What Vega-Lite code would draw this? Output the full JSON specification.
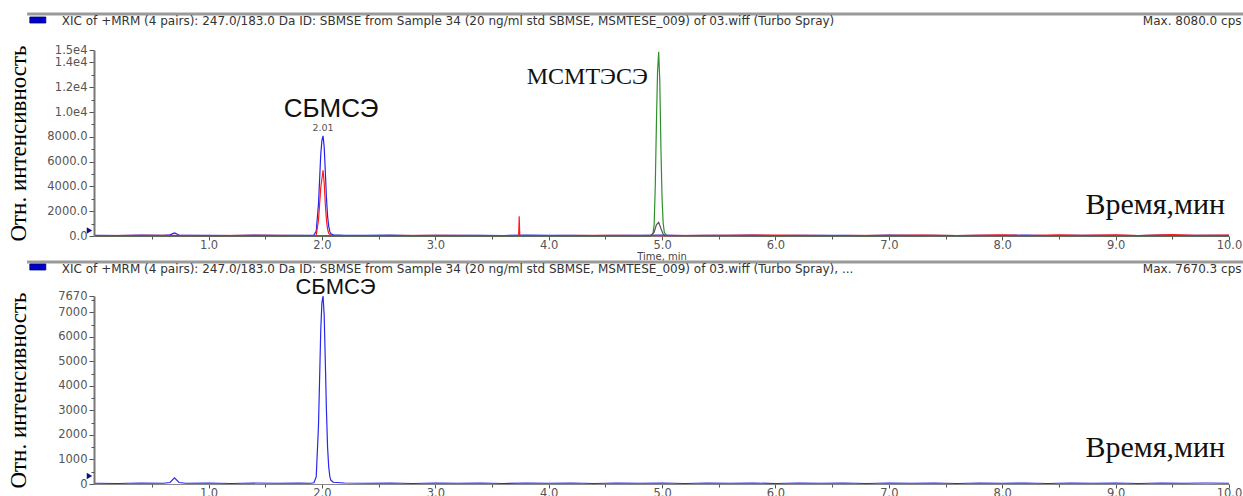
{
  "$schema": "https://vega.github.io/schema/vega-lite/v6.json",
  "padding": {"left": 6, "top": 12, "right": 0, "bottom": 0},
  "background": "white",
  "spacing": 60,
  "bounds": "flush",
  "config": {"view": {"stroke": null}, "axis": {"labelOverlap": false, "labelFlush": false, "grid": false}},
  "datasets": {
    "top": [
      {"s":"b","t":0,"i":60},{"s":"b","t":0.2,"i":40},{"s":"b","t":0.4,"i":70},{"s":"b","t":0.6,"i":50},{"s":"b","t":0.66,"i":90},{"s":"b","t":0.7,"i":240},{"s":"b","t":0.74,"i":80},{"s":"b","t":0.8,"i":50},{"s":"b","t":1.0,"i":60},{"s":"b","t":1.2,"i":40},{"s":"b","t":1.4,"i":80},{"s":"b","t":1.6,"i":50},{"s":"b","t":1.8,"i":60},{"s":"b","t":1.9,"i":50},{"s":"b","t":1.93,"i":80},{"s":"b","t":1.95,"i":400},{"s":"b","t":1.97,"i":2600},{"s":"b","t":1.99,"i":6600},{"s":"b","t":2.0,"i":7700},{"s":"b","t":2.01,"i":8080},{"s":"b","t":2.02,"i":7200},{"s":"b","t":2.03,"i":5200},{"s":"b","t":2.04,"i":3100},{"s":"b","t":2.05,"i":1600},{"s":"b","t":2.06,"i":800},{"s":"b","t":2.07,"i":350},{"s":"b","t":2.08,"i":180},{"s":"b","t":2.1,"i":90},{"s":"b","t":2.2,"i":60},{"s":"b","t":2.4,"i":50},{"s":"b","t":2.6,"i":70},{"s":"b","t":2.8,"i":40},{"s":"b","t":3.0,"i":60},{"s":"b","t":3.2,"i":50},{"s":"b","t":3.4,"i":60},{"s":"b","t":3.6,"i":40},{"s":"b","t":3.8,"i":70},{"s":"b","t":4.0,"i":50},{"s":"b","t":4.2,"i":60},{"s":"b","t":4.4,"i":40},{"s":"b","t":4.6,"i":60},{"s":"b","t":4.8,"i":50},{"s":"b","t":5.0,"i":70},{"s":"b","t":5.2,"i":40},{"s":"b","t":5.4,"i":60},{"s":"b","t":5.6,"i":50},{"s":"b","t":5.8,"i":70},{"s":"b","t":6.0,"i":40},{"s":"b","t":6.2,"i":60},{"s":"b","t":6.4,"i":50},{"s":"b","t":6.6,"i":60},{"s":"b","t":6.8,"i":40},{"s":"b","t":7.0,"i":70},{"s":"b","t":7.2,"i":50},{"s":"b","t":7.4,"i":60},{"s":"b","t":7.6,"i":40},{"s":"b","t":7.8,"i":60},{"s":"b","t":8.0,"i":50},{"s":"b","t":8.2,"i":70},{"s":"b","t":8.4,"i":40},{"s":"b","t":8.6,"i":60},{"s":"b","t":8.8,"i":50},{"s":"b","t":9.0,"i":60},{"s":"b","t":9.2,"i":40},{"s":"b","t":9.4,"i":70},{"s":"b","t":9.6,"i":50},{"s":"b","t":9.8,"i":60},{"s":"b","t":10.0,"i":50},
      {"s":"r","t":0,"i":30},{"s":"r","t":0.5,"i":50},{"s":"r","t":1.0,"i":30},{"s":"r","t":1.5,"i":60},{"s":"r","t":1.9,"i":40},{"s":"r","t":1.95,"i":60},{"s":"r","t":1.97,"i":1300},{"s":"r","t":1.99,"i":3900},{"s":"r","t":2.0,"i":4600},{"s":"r","t":2.01,"i":5300},{"s":"r","t":2.02,"i":4300},{"s":"r","t":2.03,"i":2600},{"s":"r","t":2.04,"i":1300},{"s":"r","t":2.05,"i":550},{"s":"r","t":2.06,"i":200},{"s":"r","t":2.08,"i":50},{"s":"r","t":2.5,"i":40},{"s":"r","t":3.0,"i":60},{"s":"r","t":3.5,"i":30},{"s":"r","t":3.735,"i":40},{"s":"r","t":3.74,"i":1600},{"s":"r","t":3.745,"i":40},{"s":"r","t":4.0,"i":40},{"s":"r","t":4.5,"i":60},{"s":"r","t":5.0,"i":30},{"s":"r","t":5.5,"i":50},{"s":"r","t":6.0,"i":70},{"s":"r","t":6.5,"i":40},{"s":"r","t":7.0,"i":60},{"s":"r","t":7.3,"i":80},{"s":"r","t":7.6,"i":40},{"s":"r","t":8.0,"i":90},{"s":"r","t":8.2,"i":40},{"s":"r","t":8.5,"i":100},{"s":"r","t":8.7,"i":50},{"s":"r","t":9.0,"i":90},{"s":"r","t":9.2,"i":40},{"s":"r","t":9.5,"i":110},{"s":"r","t":9.7,"i":50},{"s":"r","t":10.0,"i":80},
      {"s":"g","t":0,"i":10},{"s":"g","t":1,"i":20},{"s":"g","t":2,"i":10},{"s":"g","t":3,"i":15},{"s":"g","t":4,"i":10},{"s":"g","t":4.9,"i":20},{"s":"g","t":4.92,"i":200},{"s":"g","t":4.93,"i":900},{"s":"g","t":4.94,"i":4000},{"s":"g","t":4.95,"i":9000},{"s":"g","t":4.96,"i":13200},{"s":"g","t":4.97,"i":14850},{"s":"g","t":4.98,"i":12500},{"s":"g","t":4.99,"i":7000},{"s":"g","t":5.0,"i":3000},{"s":"g","t":5.01,"i":1000},{"s":"g","t":5.02,"i":300},{"s":"g","t":5.04,"i":40},{"s":"g","t":6,"i":15},{"s":"g","t":7,"i":10},{"s":"g","t":8,"i":20},{"s":"g","t":9,"i":10},{"s":"g","t":10,"i":15},
      {"s":"k","t":0,"i":5},{"s":"k","t":4.9,"i":10},{"s":"k","t":4.93,"i":300},{"s":"k","t":4.95,"i":900},{"s":"k","t":4.97,"i":1100},{"s":"k","t":4.99,"i":600},{"s":"k","t":5.01,"i":150},{"s":"k","t":5.03,"i":20},{"s":"k","t":10,"i":5}
    ],
    "bottom": [
      {"s":"b","t":0,"i":30},{"s":"b","t":0.2,"i":20},{"s":"b","t":0.4,"i":40},{"s":"b","t":0.6,"i":30},{"s":"b","t":0.66,"i":60},{"s":"b","t":0.7,"i":250},{"s":"b","t":0.74,"i":60},{"s":"b","t":0.8,"i":30},{"s":"b","t":1.0,"i":40},{"s":"b","t":1.2,"i":20},{"s":"b","t":1.4,"i":40},{"s":"b","t":1.6,"i":30},{"s":"b","t":1.8,"i":40},{"s":"b","t":1.9,"i":30},{"s":"b","t":1.93,"i":50},{"s":"b","t":1.95,"i":300},{"s":"b","t":1.97,"i":2400},{"s":"b","t":1.99,"i":6300},{"s":"b","t":2.0,"i":7400},{"s":"b","t":2.01,"i":7670},{"s":"b","t":2.02,"i":6900},{"s":"b","t":2.03,"i":5000},{"s":"b","t":2.04,"i":3000},{"s":"b","t":2.05,"i":1500},{"s":"b","t":2.06,"i":700},{"s":"b","t":2.07,"i":300},{"s":"b","t":2.08,"i":150},{"s":"b","t":2.1,"i":70},{"s":"b","t":2.2,"i":40},{"s":"b","t":2.4,"i":30},{"s":"b","t":2.6,"i":40},{"s":"b","t":2.8,"i":20},{"s":"b","t":3.0,"i":40},{"s":"b","t":3.2,"i":30},{"s":"b","t":3.4,"i":40},{"s":"b","t":3.6,"i":20},{"s":"b","t":3.8,"i":40},{"s":"b","t":4.0,"i":30},{"s":"b","t":4.2,"i":40},{"s":"b","t":4.4,"i":20},{"s":"b","t":4.6,"i":40},{"s":"b","t":4.8,"i":30},{"s":"b","t":5.0,"i":40},{"s":"b","t":5.2,"i":20},{"s":"b","t":5.4,"i":40},{"s":"b","t":5.6,"i":30},{"s":"b","t":5.8,"i":40},{"s":"b","t":6.0,"i":20},{"s":"b","t":6.2,"i":40},{"s":"b","t":6.4,"i":30},{"s":"b","t":6.6,"i":40},{"s":"b","t":6.8,"i":20},{"s":"b","t":7.0,"i":40},{"s":"b","t":7.2,"i":30},{"s":"b","t":7.4,"i":40},{"s":"b","t":7.6,"i":20},{"s":"b","t":7.8,"i":40},{"s":"b","t":8.0,"i":30},{"s":"b","t":8.2,"i":40},{"s":"b","t":8.4,"i":20},{"s":"b","t":8.6,"i":40},{"s":"b","t":8.8,"i":30},{"s":"b","t":9.0,"i":40},{"s":"b","t":9.2,"i":20},{"s":"b","t":9.4,"i":40},{"s":"b","t":9.6,"i":30},{"s":"b","t":9.8,"i":40},{"s":"b","t":10.0,"i":30}
    ],
    "notes": [
      {"p":"top","k":"hdr","t":-0.294,"i":17339,"label":"XIC of +MRM (4 pairs): 247.0/183.0 Da ID: SBMSE from Sample 34 (20 ng/ml std SBMSE, MSMTESE_009) of 03.wiff (Turbo Spray)"},
      {"p":"top","k":"hdr","t":9.24,"i":17339,"label":"Max. 8080.0 cps"},
      {"p":"top","k":"rt","t":2.01,"i":8080,"label":"2.01"},
      {"p":"top","k":"sans","t":2.08,"i":10242,"label":"СБМСЭ"},
      {"p":"top","k":"serif","t":4.34,"i":12823,"label":"МСМТЭСЭ"},
      {"p":"top","k":"big","t":9.35,"i":2500,"label":"Время,мин"},
      {"p":"bottom","k":"hdr","t":-0.294,"i":8771,"label":"XIC of +MRM (4 pairs): 247.0/183.0 Da ID: SBMSE from Sample 34 (20 ng/ml std SBMSE, MSMTESE_009) of 03.wiff (Turbo Spray), ..."},
      {"p":"bottom","k":"hdr","t":9.24,"i":8771,"label":"Max. 7670.3 cps"},
      {"p":"bottom","k":"sans","t":2.12,"i":8037,"label":"СБМСЭ"},
      {"p":"bottom","k":"big","t":9.35,"i":1469,"label":"Время,мин"}
    ],
    "rules": [
      {"p":"top","t":-0.6,"t2":10.13,"i":17900},
      {"p":"bottom","t":-0.6,"t2":10.13,"i":9057}
    ],
    "boxes": [
      {"p":"top","t":-0.576,"t2":-0.435,"i":17661,"i2":17177},
      {"p":"bottom","t":-0.576,"t2":-0.435,"i":8976,"i2":8731}
    ],
    "markers": [
      {"p":"top","t":-0.05,"i":444},
      {"p":"bottom","t":-0.05,"i":326}
    ]
  },
  "vconcat": [
    {
      "width": 1135,
      "height": 186,
      "resolve": {"axis": {"x": "independent", "y": "independent"}},
      "encoding": {
        "x": {"field": "t", "type": "quantitative", "scale": {"domain": [-0.01, 10], "nice": false, "zero": false}, "axis": null},
        "y": {"field": "i", "type": "quantitative", "scale": {"domain": [0, 15000], "nice": false}, "axis": null}
      },
      "layer": [
        {
          "data": {"name": "top"},
          "transform": [{"filter": "datum.s === 'b'"}],
          "mark": {"type": "line", "color": "#2424ee", "strokeWidth": 1.2},
          "encoding": {
            "x": {"field": "t", "type": "quantitative",
              "axis": {"title": "Time, min", "orient": "bottom", "values": [1,2,3,4,5,6,7,8,9,10], "format": ".1f", "tickSize": 4,
                "labelFlush": false, "labelOverlap": false, "grid": false,
                "domainColor": "#888", "tickColor": "#555", "labelFont": "DejaVu Sans", "labelFontSize": 11.5, "labelColor": "#555", "labelPadding": -1,
                "titleFont": "DejaVu Sans", "titleFontSize": 10, "titleFontWeight": "normal", "titleColor": "#444", "titlePadding": 1}},
            "y": {"field": "i", "type": "quantitative",
              "axis": {"title": "Отн. интенсивность", "orient": "left", "values": [0,2000,4000,6000,8000,10000,12000,14000,15000],
                "labelExpr": "datum.value >= 10000 ? replace(format(datum.value, '.1e'), '+', '') : format(datum.value, '.1f')",
                "tickSize": 5, "labelFlush": false, "labelOverlap": false, "labelBound": false, "grid": false,
                "domainColor": "#777", "domainWidth": 2, "tickColor": "#555", "labelFont": "DejaVu Sans", "labelFontSize": 11.5, "labelColor": "#555", "labelPadding": 2,
                "titleFont": "Liberation Serif", "titleFontSize": 23, "titleFontWeight": "normal", "titleColor": "#000", "titleX": -76, "titleBaseline": "middle"}}
          }
        },
        {
          "data": {"name": "markers"},
          "transform": [{"filter": "datum.p === 'top'"}],
          "mark": {"type": "point", "opacity": 0},
          "encoding": {
            "x": {"field": "t", "type": "quantitative",
              "axis": {"title": null, "orient": "bottom", "values": [0.5,1.5,2.5,3.5,4.5,5.5,6.5,7.5,8.5,9.5], "labels": false, "domain": false, "tickSize": 3, "tickColor": "#555", "grid": false}},
            "y": {"field": "i", "type": "quantitative",
              "axis": {"title": null, "orient": "left", "values": [1000,3000,5000,7000,9000,11000,13000], "labels": false, "domain": false, "tickSize": 3, "tickColor": "#555", "grid": false}}
          }
        },
        {
          "data": {"name": "top"},
          "transform": [{"filter": "datum.s === 'r'"}],
          "mark": {"type": "line", "color": "#ff1a1a", "strokeWidth": 1.2}
        },
        {
          "data": {"name": "top"},
          "transform": [{"filter": "datum.s === 'g'"}],
          "mark": {"type": "line", "color": "#2f8f2f", "strokeWidth": 1.2}
        },
        {
          "data": {"name": "top"},
          "transform": [{"filter": "datum.s === 'k'"}],
          "mark": {"type": "line", "color": "#555555", "strokeWidth": 1.2}
        },
        {
          "data": {"name": "markers"},
          "transform": [{"filter": "datum.p === 'top'"}],
          "mark": {"type": "point", "shape": "triangle-right", "filled": true, "color": "#10108a", "size": 40, "opacity": 1}
        },
        {
          "data": {"name": "rules"},
          "transform": [{"filter": "datum.p === 'top'"}],
          "mark": {"type": "rule", "color": "#9a9a9a", "strokeWidth": 3},
          "encoding": {"x2": {"field": "t2"}}
        },
        {
          "data": {"name": "boxes"},
          "transform": [{"filter": "datum.p === 'top'"}],
          "mark": {"type": "rect", "color": "#0000cc", "stroke": "#000066", "strokeWidth": 0.8},
          "encoding": {"x2": {"field": "t2"}, "y2": {"field": "i2"}}
        },
        {
          "data": {"name": "notes"},
          "transform": [{"filter": "datum.p === 'top' && datum.k === 'hdr'"}],
          "mark": {"type": "text", "align": "left", "baseline": "middle", "font": "DejaVu Sans", "fontSize": 12, "color": "#333"},
          "encoding": {"text": {"field": "label"}}
        },
        {
          "data": {"name": "notes"},
          "transform": [{"filter": "datum.p === 'top' && datum.k === 'rt'"}],
          "mark": {"type": "text", "align": "center", "baseline": "bottom", "dy": -3, "font": "DejaVu Sans", "fontSize": 9.5, "color": "#555"},
          "encoding": {"text": {"field": "label"}}
        },
        {
          "data": {"name": "notes"},
          "transform": [{"filter": "datum.p === 'top' && datum.k === 'sans'"}],
          "mark": {"type": "text", "align": "center", "baseline": "middle", "font": "Liberation Sans", "fontSize": 26, "color": "#111"},
          "encoding": {"text": {"field": "label"}}
        },
        {
          "data": {"name": "notes"},
          "transform": [{"filter": "datum.p === 'top' && datum.k === 'serif'"}],
          "mark": {"type": "text", "align": "center", "baseline": "middle", "font": "Liberation Serif", "fontSize": 24, "color": "#111"},
          "encoding": {"text": {"field": "label"}}
        },
        {
          "data": {"name": "notes"},
          "transform": [{"filter": "datum.p === 'top' && datum.k === 'big'"}],
          "mark": {"type": "text", "align": "center", "baseline": "middle", "font": "Liberation Serif", "fontSize": 30, "color": "#111"},
          "encoding": {"text": {"field": "label"}}
        }
      ]
    },
    {
      "width": 1135,
      "height": 188,
      "resolve": {"axis": {"x": "independent", "y": "independent"}},
      "encoding": {
        "x": {"field": "t", "type": "quantitative", "scale": {"domain": [-0.01, 10], "nice": false, "zero": false}, "axis": null},
        "y": {"field": "i", "type": "quantitative", "scale": {"domain": [0, 7670], "nice": false}, "axis": null}
      },
      "layer": [
        {
          "data": {"name": "bottom"},
          "transform": [{"filter": "datum.s === 'b'"}],
          "mark": {"type": "line", "color": "#2828ee", "strokeWidth": 1.2},
          "encoding": {
            "x": {"field": "t", "type": "quantitative",
              "axis": {"title": null, "orient": "bottom", "values": [1,2,3,4,5,6,7,8,9,10], "format": ".1f", "tickSize": 4,
                "labelFlush": false, "labelOverlap": false, "grid": false,
                "domainColor": "#888", "tickColor": "#555", "labelFont": "DejaVu Sans", "labelFontSize": 11.5, "labelColor": "#555", "labelPadding": -1}},
            "y": {"field": "i", "type": "quantitative",
              "axis": {"title": "Отн. интенсивность", "orient": "left", "values": [0,1000,2000,3000,4000,5000,6000,7000,7670], "format": "d",
                "tickSize": 5, "labelFlush": false, "labelOverlap": false, "labelBound": false, "grid": false,
                "domainColor": "#777", "domainWidth": 2, "tickColor": "#555", "labelFont": "DejaVu Sans", "labelFontSize": 11.5, "labelColor": "#555", "labelPadding": 2,
                "titleFont": "Liberation Serif", "titleFontSize": 23, "titleFontWeight": "normal", "titleColor": "#000", "titleX": -76, "titleBaseline": "middle"}}
          }
        },
        {
          "data": {"name": "markers"},
          "transform": [{"filter": "datum.p === 'bottom'"}],
          "mark": {"type": "point", "opacity": 0},
          "encoding": {
            "x": {"field": "t", "type": "quantitative",
              "axis": {"title": null, "orient": "bottom", "values": [0.5,1.5,2.5,3.5,4.5,5.5,6.5,7.5,8.5,9.5], "labels": false, "domain": false, "tickSize": 3, "tickColor": "#555", "grid": false}},
            "y": {"field": "i", "type": "quantitative",
              "axis": {"title": null, "orient": "left", "values": [500,1500,2500,3500,4500,5500,6500,7500], "labels": false, "domain": false, "tickSize": 3, "tickColor": "#555", "grid": false}}
          }
        },
        {
          "data": {"name": "markers"},
          "transform": [{"filter": "datum.p === 'bottom'"}],
          "mark": {"type": "point", "shape": "triangle-right", "filled": true, "color": "#10108a", "size": 40, "opacity": 1}
        },
        {
          "data": {"name": "rules"},
          "transform": [{"filter": "datum.p === 'bottom'"}],
          "mark": {"type": "rule", "color": "#9a9a9a", "strokeWidth": 3},
          "encoding": {"x2": {"field": "t2"}}
        },
        {
          "data": {"name": "boxes"},
          "transform": [{"filter": "datum.p === 'bottom'"}],
          "mark": {"type": "rect", "color": "#0000cc", "stroke": "#000066", "strokeWidth": 0.8},
          "encoding": {"x2": {"field": "t2"}, "y2": {"field": "i2"}}
        },
        {
          "data": {"name": "notes"},
          "transform": [{"filter": "datum.p === 'bottom' && datum.k === 'hdr'"}],
          "mark": {"type": "text", "align": "left", "baseline": "middle", "font": "DejaVu Sans", "fontSize": 12, "color": "#333"},
          "encoding": {"text": {"field": "label"}}
        },
        {
          "data": {"name": "notes"},
          "transform": [{"filter": "datum.p === 'bottom' && datum.k === 'sans'"}],
          "mark": {"type": "text", "align": "center", "baseline": "middle", "font": "Liberation Sans", "fontSize": 22, "color": "#111"},
          "encoding": {"text": {"field": "label"}}
        },
        {
          "data": {"name": "notes"},
          "transform": [{"filter": "datum.p === 'bottom' && datum.k === 'big'"}],
          "mark": {"type": "text", "align": "center", "baseline": "middle", "font": "Liberation Serif", "fontSize": 30, "color": "#111"},
          "encoding": {"text": {"field": "label"}}
        }
      ]
    }
  ]
}
